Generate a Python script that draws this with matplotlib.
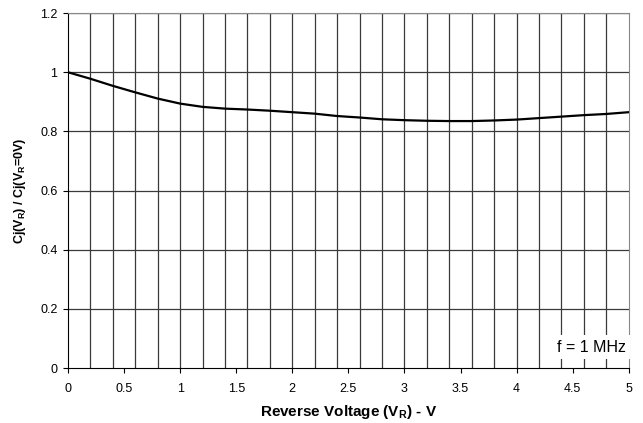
import numpy as np
import matplotlib.pyplot as plt

plt.rc('font', family=['Liberation Sans', 'DejaVu Sans'], size=9)

vr = [0.0, 0.2, 0.4, 0.6, 0.8, 1.0, 1.2, 1.4, 1.6, 1.8, 2.0, 2.2, 2.4, 2.6,
      2.8, 3.0, 3.2, 3.4, 3.6, 3.8, 4.0, 4.2, 4.4, 4.6, 4.8, 5.0]
cj_ratio = [1.0, 0.978, 0.954, 0.932, 0.911, 0.894, 0.883, 0.877, 0.874, 0.870,
            0.865, 0.860, 0.852, 0.847, 0.841, 0.838, 0.836, 0.835, 0.835,
            0.837, 0.840, 0.845, 0.850, 0.855, 0.859, 0.865]

fig = plt.figure(figsize=(6.43, 4.23), dpi=100)
ax = fig.add_axes([0.1058, 0.130, 0.872, 0.839])

# grid: vertical every 0.2, horizontal every 0.2
for x in np.arange(0.2, 5.0, 0.2):
    ax.axvline(x, color='#3a3a3a', lw=0.9, zorder=1)
for y in np.arange(0.2, 1.21, 0.2):
    ax.axhline(y, color='#3a3a3a', lw=0.9, zorder=1)

ax.plot(vr, cj_ratio, color='black', lw=1.6, zorder=3)

ax.set_xlim(0, 5)
ax.set_ylim(0, 1.2)
ax.set_xticks(np.arange(0, 5.01, 0.5))
ax.set_xticklabels(['0', '0.5', '1', '1.5', '2', '2.5', '3', '3.5', '4', '4.5', '5'])
ax.set_yticks(np.arange(0, 1.21, 0.2))
ax.set_yticklabels(['0', '0.2', '0.4', '0.6', '0.8', '1', '1.2'])
ax.tick_params(direction='out', length=3.6, width=0.8, labelsize=9)
ax.tick_params(axis='x', pad=7)
ax.tick_params(axis='y', pad=4)

for s in ['top', 'right']:
    ax.spines[s].set_color('#888888')
for s in ['left', 'bottom']:
    ax.spines[s].set_color('black')

ax.set_xlabel(r'Reverse Voltage (V$_\mathregular{R}$) - V', fontweight='bold', fontsize=11, labelpad=6)
ax.set_ylabel(r'Cj(V$_\mathregular{R}$) / Cj(V$_\mathregular{R}$=0V)', fontweight='bold', fontsize=9, labelpad=9)

ax.text(4.975, 0.071, 'f = 1 MHz', ha='right', va='center', fontsize=11.5,
        bbox=dict(facecolor='white', edgecolor='none', pad=3), zorder=4)

fig.savefig('out.png', dpi=100)
